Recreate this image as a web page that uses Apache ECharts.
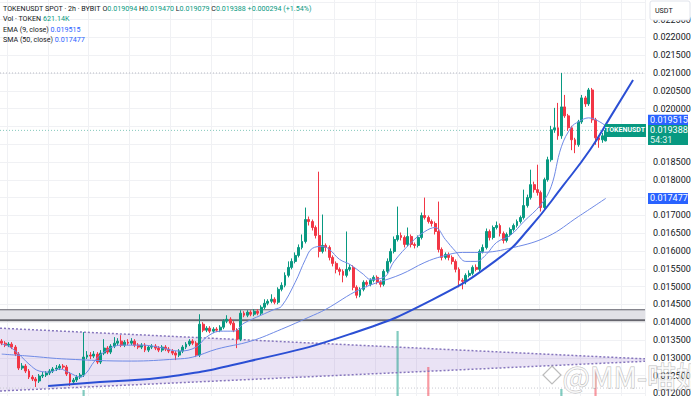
<!DOCTYPE html>
<html><head><meta charset="utf-8">
<script src="https://cdn.jsdelivr.net/npm/echarts/dist/echarts.min.js"></script>
<style>html,body{margin:0;padding:0;background:#fff}#c{width:691px;height:396px}</style>
</head><body><div id="c"></div>
<script>
// ---- candle data (2h bars, TOKENUSDT) ----
const opens = [
0.013468,0.013412,0.013356,0.013384,0.013300,0.013104,0.012712,0.012768,0.012628,0.012460,
0.012404,0.012348,0.012488,0.012516,0.012572,0.012628,0.012684,0.012712,0.012768,0.012740,
0.012544,0.012320,0.012376,0.012460,0.012516,0.013020,0.013076,0.013048,0.013104,0.012880,
0.013132,0.013272,0.013160,0.013328,0.013412,0.013468,0.013356,0.013440,0.013412,0.013468,
0.013356,0.013300,0.013356,0.013216,0.013300,0.013328,0.013272,0.013216,0.013300,0.013244,
0.013188,0.013132,0.013076,0.013188,0.013300,0.013384,0.013468,0.013412,0.013076,0.013944,
0.013776,0.013832,0.013748,0.013804,0.013776,0.013860,0.014028,0.014084,0.013972,0.013776,
0.013524,0.014252,0.014196,0.014280,0.014224,0.014308,0.014252,0.014420,0.014532,0.014588,
0.014644,0.014560,0.014924,0.015036,0.015316,0.015540,0.015708,0.015876,0.016100,0.016268,
0.016884,0.016828,0.016660,0.016436,0.015988,0.016156,0.016100,0.015820,0.015652,0.015484,
0.015428,0.015316,0.015484,0.015540,0.014980,0.014756,0.014924,0.015120,0.015064,0.015176,
0.015260,0.015120,0.015064,0.015428,0.015708,0.015988,0.016324,0.016436,0.016380,0.016184,
0.016408,0.016184,0.016156,0.016380,0.016996,0.016940,0.016828,0.016772,0.016548,0.016044,
0.015820,0.015904,0.015820,0.015708,0.015484,0.015176,0.015148,0.015316,0.015372,0.015540,
0.015484,0.015988,0.016100,0.016548,0.016380,0.016660,0.016716,0.016492,0.016296,0.016464,
0.016604,0.016716,0.016828,0.016940,0.017276,0.017500,0.017864,0.017724,0.017640,0.017220,
0.018004,0.018564,0.019404,0.019460,0.019236,0.020048,0.019796,0.019460,0.019124,0.018984,
0.019628,0.020300,0.020132,0.020524,0.019684,0.019180,0.019124,0.019094];
const closes = [
0.013412,0.013356,0.013384,0.013300,0.013104,0.012712,0.012768,0.012628,0.012460,0.012404,
0.012348,0.012488,0.012516,0.012572,0.012628,0.012684,0.012712,0.012768,0.012740,0.012544,
0.012320,0.012376,0.012460,0.012516,0.013020,0.013076,0.013048,0.013104,0.012880,0.013132,
0.013272,0.013160,0.013328,0.013412,0.013468,0.013356,0.013440,0.013412,0.013468,0.013356,
0.013300,0.013356,0.013216,0.013300,0.013328,0.013272,0.013216,0.013300,0.013244,0.013188,
0.013132,0.013076,0.013188,0.013300,0.013384,0.013468,0.013412,0.013076,0.013944,0.013776,
0.013832,0.013748,0.013804,0.013776,0.013860,0.014028,0.014084,0.013972,0.013776,0.013524,
0.014252,0.014196,0.014280,0.014224,0.014308,0.014252,0.014420,0.014532,0.014588,0.014644,
0.014560,0.014924,0.015036,0.015316,0.015540,0.015708,0.015876,0.016100,0.016268,0.016884,
0.016828,0.016660,0.016436,0.015988,0.016156,0.016100,0.015820,0.015652,0.015484,0.015428,
0.015316,0.015484,0.015540,0.014980,0.014756,0.014924,0.015120,0.015064,0.015176,0.015260,
0.015120,0.015064,0.015428,0.015708,0.015988,0.016324,0.016436,0.016380,0.016184,0.016408,
0.016184,0.016156,0.016380,0.016996,0.016940,0.016828,0.016772,0.016548,0.016044,0.015820,
0.015904,0.015820,0.015708,0.015484,0.015176,0.015148,0.015316,0.015372,0.015540,0.015484,
0.015988,0.016100,0.016548,0.016380,0.016660,0.016716,0.016492,0.016296,0.016464,0.016604,
0.016716,0.016828,0.016940,0.017276,0.017500,0.017864,0.017724,0.017640,0.017220,0.018004,
0.018564,0.019404,0.019460,0.019236,0.020048,0.019796,0.019460,0.019124,0.018984,0.019628,
0.020300,0.020132,0.020524,0.019684,0.019180,0.019124,0.019236,0.019388];
const highs = [
0.013524,0.013468,0.013440,0.013440,0.013356,0.013160,0.012852,0.012824,0.012684,0.012516,
0.012460,0.012544,0.012600,0.012628,0.012684,0.012740,0.012796,0.012824,0.012824,0.012796,
0.012600,0.012432,0.012516,0.012572,0.013720,0.013188,0.013160,0.013188,0.013160,0.013216,
0.013524,0.013328,0.013384,0.013580,0.013552,0.013636,0.013496,0.013524,0.013552,0.013524,
0.013412,0.013412,0.013412,0.013356,0.013384,0.013384,0.013328,0.013356,0.013356,0.013300,
0.013244,0.013188,0.013244,0.013356,0.013440,0.013524,0.013524,0.013468,0.014224,0.014000,
0.013888,0.013888,0.013860,0.013860,0.013916,0.014084,0.014196,0.014140,0.014028,0.013832,
0.014336,0.014308,0.014336,0.014336,0.014364,0.014364,0.014476,0.014644,0.014644,0.014784,
0.014700,0.014980,0.015120,0.015400,0.015708,0.015792,0.015960,0.016184,0.016464,0.017220,
0.016968,0.016884,0.016716,0.018228,0.017024,0.016212,0.016156,0.015876,0.015708,0.015540,
0.015484,0.016548,0.015624,0.015596,0.015036,0.014980,0.015176,0.015176,0.015232,0.015316,
0.015316,0.015176,0.015484,0.015792,0.016072,0.016408,0.017248,0.016520,0.016436,0.016660,
0.016464,0.016240,0.016436,0.017080,0.017500,0.016996,0.016884,0.016828,0.017388,0.016100,
0.015960,0.015960,0.015876,0.015764,0.015540,0.015232,0.015372,0.015456,0.015596,0.015624,
0.016044,0.016184,0.016632,0.016604,0.016716,0.016828,0.016772,0.016548,0.016520,0.016660,
0.016772,0.016884,0.016996,0.017724,0.017584,0.018284,0.017948,0.018424,0.017696,0.018060,
0.018648,0.019516,0.020020,0.020160,0.021000,0.020384,0.019852,0.019516,0.019180,0.019684,
0.020384,0.020356,0.020580,0.020580,0.019740,0.019236,0.019320,0.019470];
const lows = [
0.013356,0.013300,0.013300,0.013244,0.013048,0.012656,0.012656,0.012572,0.012404,0.012348,
0.012180,0.012292,0.012432,0.012460,0.012516,0.012572,0.012628,0.012656,0.012684,0.012488,
0.012208,0.012264,0.012320,0.012404,0.012460,0.012964,0.012964,0.012992,0.012824,0.012824,
0.013076,0.013104,0.013104,0.013272,0.013356,0.013300,0.013300,0.013356,0.013356,0.013300,
0.013244,0.013244,0.013160,0.013160,0.013244,0.013216,0.013160,0.013160,0.013188,0.013132,
0.013076,0.012936,0.013020,0.013132,0.013244,0.013328,0.013356,0.013020,0.013020,0.013720,
0.013720,0.013692,0.013692,0.013720,0.013720,0.013804,0.013972,0.013916,0.013720,0.013272,
0.013468,0.014140,0.014140,0.014168,0.014168,0.014196,0.014196,0.014364,0.014476,0.014532,
0.014504,0.014504,0.014868,0.014980,0.015260,0.015484,0.015652,0.015820,0.016044,0.016212,
0.016716,0.016576,0.016352,0.015820,0.015932,0.015988,0.015736,0.015568,0.015372,0.015316,
0.015120,0.015260,0.015428,0.014896,0.014672,0.014700,0.014868,0.014980,0.015008,0.015120,
0.015064,0.014980,0.015008,0.015372,0.015652,0.015932,0.016268,0.016296,0.016100,0.016128,
0.016100,0.016072,0.016100,0.016324,0.016884,0.016772,0.016688,0.016464,0.015960,0.015736,
0.015764,0.015736,0.015624,0.015400,0.014980,0.014924,0.015064,0.015260,0.015316,0.015428,
0.015428,0.015932,0.016044,0.016296,0.016324,0.016604,0.016408,0.016212,0.016240,0.016408,
0.016548,0.016660,0.016772,0.016884,0.017220,0.017444,0.017640,0.017556,0.017108,0.017164,
0.017948,0.018508,0.019320,0.019124,0.019152,0.019740,0.019376,0.018832,0.018748,0.018928,
0.019572,0.020048,0.020076,0.019600,0.018984,0.018900,0.019040,0.019079];

// ---- indicators: [bar index, value] ----
const ema9 = [[0,0.013384],[2,0.013328],[5,0.013104],[8,0.012824],[11,0.012628],[14,0.012600],[17,0.012684],[20,0.012572],[23,0.012460],[25,0.012600],[27,0.012880],[30,0.013160],[35,0.013356],[41,0.013356],[46,0.013300],[52,0.013188],[57,0.013300],[60,0.013580],[64,0.013748],[68,0.013748],[71,0.013972],[76,0.014196],[80,0.014364],[82,0.014448],[86,0.015120],[89,0.015764],[91,0.016072],[94,0.016128],[96,0.016044],[99,0.015764],[102,0.015624],[106,0.015344],[108,0.015204],[112,0.015260],[115,0.015708],[120,0.016240],[124,0.016548],[127,0.016660],[130,0.016324],[133,0.015988],[136,0.015708],[139,0.015708],[142,0.015904],[145,0.016240],[149,0.016436],[153,0.016828],[158,0.017304],[161,0.017808],[164,0.018928],[167,0.019488],[169,0.019628],[172,0.019740],[177,0.019515]];
const sma50 = [[0,0.013104],[8,0.013048],[19,0.012964],[38,0.012908],[51,0.012964],[56,0.013020],[63,0.013244],[73,0.013468],[82,0.013804],[90,0.014140],[95,0.014364],[105,0.014924],[117,0.015344],[124,0.015680],[129,0.015848],[135,0.015960],[140,0.015960],[150,0.016100],[160,0.016408],[169,0.016968],[177,0.017477]];
// volume (K TOKEN) of the bars whose volume column shows in the picture
const volumeBars = [[24,993],[116,3755],[125,2069],[164,1039],[174,1976],[177,621.14]];

// ---- drawings ----
const trendCurve = [[13.6,0.012208],[28.8,0.012320],[48.4,0.012460],[72.7,0.012908],[102.0,0.013664],[126.4,0.014644],[146.0,0.015820],[154.8,0.016660],[164.5,0.017836],[172.4,0.018844],[178.2,0.019740],[185.0,0.020804]];
const triangleTop = [[-0.5,0.013832],[188.5,0.012970]];
const triangleBottom = [[-0.5,0.012068],[188.5,0.012902]];
const zoneLow = 0.014056, zoneHigh = 0.014350;
const highLine = 0.021000, lowLine = 0.012150;
const lastClose = 0.019388, emaLast = 0.019515, smaLast = 0.017477;
const countdown = '54:31';
// header texts
const headLine1 = ['TOKENUSDT SPOT · 2h · BYBIT', 'O', '0.019094', 'H', '0.019470', 'L', '0.019079', 'C', '0.019388', '+0.000294 (+1.54%)'];
// scale labels hidden behind the price tags
const coveredTicks = ['0.019500', '0.019000', '0.017500'];
const slotCount = 189;
const slots = Array.from({length: slotCount}, (_, i) => String(i));
const xSpan = [-0.5, slotCount - 0.5];

const UP = '#089981', DOWN = '#f23645', BLUE = '#2962ff';
const candleData = opens.map((o, i) => [o, closes[i], lows[i], highs[i]]);
const volData = volumeBars.map(([i, v]) => ({value: [i, v], itemStyle: {color: closes[i] >= opens[i] ? 'rgba(8,153,129,0.5)' : 'rgba(242,54,69,0.5)'}}));
const hLine = (v, style, z) => ({type: 'line', xAxisIndex: 1, yAxisIndex: 0, data: [[xSpan[0], v], [xSpan[1], v]], symbol: 'none', silent: true, z: z || 2, lineStyle: style});

const chart = echarts.init(document.getElementById('c'), null, {renderer: 'svg', width: 691, height: 396});

chart.setOption({
  animation: false,
  backgroundColor: '#fff',
  grid: {left: 0, right: 46, top: -16, bottom: -15.2, containLabel: false, outerBoundsMode: 'none'},
  xAxis: [
    {type: 'category', data: slots, boundaryGap: true, axisLine: {show: false}, axisTick: {show: false}, axisLabel: {show: false},
     splitLine: {show: true, interval: (idx) => idx % 12 === 2, lineStyle: {color: '#f0f1f4', width: 1}}},
    {type: 'value', min: xSpan[0], max: xSpan[1], show: false}
  ],
  yAxis: [
    {type: 'value', position: 'right', min: 0.0115, max: 0.0235, interval: 0.0005,
     axisLine: {show: false}, axisTick: {show: false},
     axisLabel: {color: '#131722', fontFamily: 'Roboto', fontSize: 9, margin: 8,
       formatter: (v) => { const s = v.toFixed(6); return (v > 0.02276 || v < 0.01176 || coveredTicks.includes(s)) ? '' : s; }},
     splitLine: {show: true, lineStyle: {color: '#f0f1f4', width: 1}}},
    {type: 'value', min: 0, max: 20000, show: false}
  ],
  series: [
    {type: 'custom', xAxisIndex: 1, yAxisIndex: 0, silent: true, z: 1, clip: false,
     data: [[0, 0.0125]],
     renderItem: (params, api) => {
       const pts = [triangleTop[0], triangleTop[1], triangleBottom[1], triangleBottom[0]].map(p => api.coord(p));
       return {type: 'polygon', shape: {points: pts}, style: {fill: 'rgba(149,117,205,0.2)'}};
     }},
    {type: 'line', xAxisIndex: 1, data: triangleTop, symbol: 'none', silent: true, z: 2,
     lineStyle: {color: '#8676bd', width: 1.5, type: [2, 2]},
     markArea: {silent: true, itemStyle: {color: '#e1e1e6'}, data: [[{yAxis: zoneLow}, {yAxis: zoneHigh}]]}},
    {type: 'line', xAxisIndex: 1, data: triangleBottom, symbol: 'none', silent: true, z: 2,
     lineStyle: {color: '#8676bd', width: 1.5, type: [2, 2]}},
    hLine(zoneHigh, {color: '#5f5f68', width: 1.2}),
    hLine(zoneLow, {color: '#66666e', width: 2}),
    hLine(lowLine, {color: '#c9cbd2', width: 1, type: [1, 2]}),
    hLine(highLine, {color: '#b8bbc4', width: 1, type: [1, 2]}),
    hLine(lastClose, {color: '#86c9bc', width: 1, type: [1, 2]}),
    {type: 'bar', xAxisIndex: 0, yAxisIndex: 1, data: volData, barWidth: 2.2, silent: true, z: 2},
    {type: 'candlestick', xAxisIndex: 0, yAxisIndex: 0, data: candleData, barWidth: 2.4, z: 3,
     itemStyle: {color: UP, color0: DOWN, borderColor: UP, borderColor0: DOWN, borderWidth: 1}},
    {type: 'line', xAxisIndex: 0, data: sma50, symbol: 'none', smooth: 0.4, silent: true, z: 4,
     lineStyle: {color: '#6f8ae6', width: 1}},
    {type: 'line', xAxisIndex: 0, data: ema9, symbol: 'none', smooth: 0.4, silent: true, z: 4,
     lineStyle: {color: '#6f8ae6', width: 1}},
    {type: 'line', xAxisIndex: 1, data: trendCurve, symbol: 'none', smooth: 0.5, silent: true, z: 5,
     lineStyle: {color: '#2b4fd4', width: 2}}
  ]
});

// ---- header font size fitted to the reference's text width ("...(+1.5" reaches x=300) ----
const mctx = document.createElement('canvas').getContext('2d');
mctx.font = '10px Roboto';
const probe = headLine1.slice(0, 9).join(' ').replace(/ (\d)/g, '$1').replace('O0', 'O0') + ' +0.000294 (+1.5';
const probeText = 'TOKENUSDT SPOT · 2h · BYBIT O0.019094 H0.019470 L0.019079 C0.019388 +0.000294 (+1.5';
const HF = Math.max(6.5, Math.min(9, 10 * 297 / mctx.measureText(probeText).width));

// ---- price tags on the scale, placed through the chart's own axes ----
const yPix = (v) => chart.convertToPixel({yAxisIndex: 0}, v);
const plotRight = chart.convertToPixel({xAxisIndex: 1}, xSpan[1]);
const tagX = plotRight + 3, tagW = 40;
const tagText = (txt, x, y, fill, size, extra) => ({type: 'text', x: x, y: y, z: 31, silent: true,
  style: Object.assign({text: txt, fill: fill, fontFamily: 'Roboto', fontSize: size || 9, align: 'left', verticalAlign: 'middle'}, extra || {})});
const yE = yPix(emaLast), yP = yPix(lastClose), yS = yPix(smaLast);
const head = (parts, cy) => {
  const rich = {n: {fill: '#131722', fontSize: HF, fontFamily: 'Roboto'}, g: {fill: UP, fontSize: HF, fontFamily: 'Roboto'}, b: {fill: BLUE, fontSize: HF, fontFamily: 'Roboto'}};
  return {type: 'text', x: 3, y: cy, z: 20, silent: true, style: {text: parts, rich: rich, fontFamily: 'Roboto', fontSize: HF, fill: '#131722', verticalAlign: 'middle'}};
};
const h = headLine1;

chart.setOption({graphic: [
  head(`{n|${h[0]}} {n|${h[1]}}{g|${h[2]}} {n|${h[3]}}{g|${h[4]}} {n|${h[5]}}{g|${h[6]}} {n|${h[7]}}{g|${h[8]}} {g|${h[9]}}`, 8),
  head('{n|Vol · TOKEN} {g|621.14K}', 18.5),
  head('{n|EMA (9, close)} {b|0.019515}', 29),
  head('{n|SMA (50, close)} {b|0.017477}', 39.5),
  {type: 'rect', z: 20, silent: true, shape: {x: 650, y: 1, width: 40, height: 19, r: 2}, style: {fill: '#fff', stroke: '#e0e3eb', lineWidth: 1}},
  {type: 'text', z: 21, silent: true, x: 655, y: 10.5, style: {text: 'USDT', fontFamily: 'Roboto', fontSize: HF, fill: '#131722', verticalAlign: 'middle'}},
  // EMA tag (pushed above the price tag)
  {type: 'rect', z: 30, silent: true, shape: {x: tagX, y: yE - 11, width: tagW, height: 11}, style: {fill: BLUE}},
  tagText('0.019515', tagX + 2, yE - 5.5, '#fff'),
  // last price tag with countdown
  {type: 'rect', z: 30, silent: true, shape: {x: tagX, y: yP - 5.5, width: tagW, height: 20}, style: {fill: UP}},
  tagText('0.019388', tagX + 2, yP, '#fff'),
  tagText(countdown, tagX + 2, yP + 9.5, '#e3f4f0'),
  // symbol tag left of the scale
  {type: 'rect', z: 30, silent: true, shape: {x: plotRight - 40, y: yP - 6.5, width: 41, height: 13}, style: {fill: UP}},
  tagText('TOKENUSDT', plotRight - 20, yP, '#fff', 7, {align: 'center', fontWeight: 'bold'}),
  // SMA tag
  {type: 'rect', z: 30, silent: true, shape: {x: tagX, y: yS - 5.5, width: tagW, height: 11}, style: {fill: BLUE}},
  tagText('0.017477', tagX + 2, yS, '#fff'),
  // watermark
  {type: 'polygon', z: 20, silent: true, shape: {points: [[552, 366], [561, 375], [552, 384], [543, 375]]}, style: {fill: 'rgba(255,255,255,0.6)', stroke: 'rgba(160,160,160,0.7)', lineWidth: 1.2}},
  {type: 'text', left: 562, top: 360, z: 20, silent: true, style: {text: '@MM-喵姐', fontFamily: 'Noto Sans CJK SC', fontSize: 29, fill: 'rgba(255,255,255,0.75)', stroke: 'rgba(150,150,150,0.65)', lineWidth: 1}}
]});
</script>
</body></html>
